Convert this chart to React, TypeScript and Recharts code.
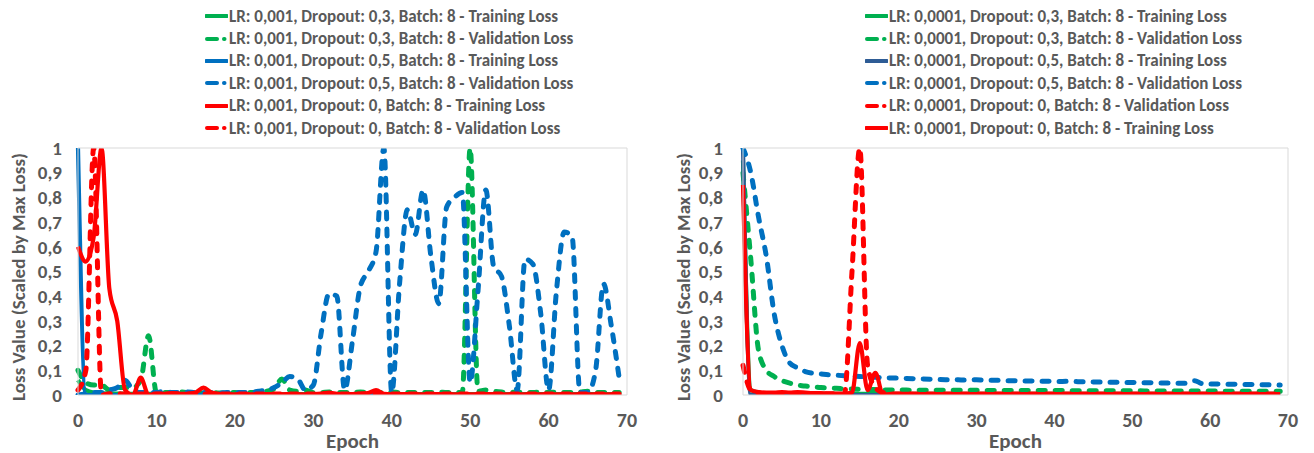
import React from "react";
import { LineChart, Line, XAxis, YAxis, ReferenceLine } from "recharts";

const epochs = [
  0, 1, 2, 3, 4, 5, 6, 7, 8, 9, 10, 11, 12, 13, 14, 15, 16, 17, 18, 19, 20, 21, 22, 23, 24, 25, 26, 27, 28, 29, 30, 31, 32, 33, 34,
  35, 36, 37, 38, 39, 40, 41, 42, 43, 44, 45, 46, 47, 48, 49, 50, 51, 52, 53, 54, 55, 56, 57, 58, 59, 60, 61, 62, 63, 64, 65, 66, 67, 68, 69,
];
const yTicks = [0, 0.1, 0.2, 0.3, 0.4, 0.5, 0.6, 0.7, 0.8, 0.9, 1];
const xTicks = [0, 10, 20, 30, 40, 50, 60, 70];

// LR 0,001
const a_d03_train = [
  0.06, 0.02, 0.01, 0.008, 0.006, 0.006, 0.005, 0.005, 0.005, 0.005, 0.005, 0.004, 0.004, 0.004, 0.004, 0.004, 0.004, 0.004, 0.004, 0.004,
  0.004, 0.004, 0.004, 0.004, 0.004, 0.004, 0.004, 0.004, 0.004, 0.004, 0.004, 0.004, 0.004, 0.004, 0.004, 0.004, 0.004, 0.004, 0.004, 0.004,
  0.004, 0.004, 0.004, 0.004, 0.004, 0.004, 0.004, 0.004, 0.004, 0.004, 0.004, 0.004, 0.004, 0.004, 0.004, 0.004, 0.004, 0.004, 0.004, 0.004,
  0.004, 0.004, 0.004, 0.004, 0.004, 0.004, 0.004, 0.004, 0.004, 0.004,
];
const a_d03_val = [
  0.1, 0.05, 0.04, 0.04, 0.02, 0.03, 0.03, 0.03, 0.06, 0.24, 0.01, 0.01, 0.01, 0.012, 0.01, 0.01, 0.008, 0.01, 0.008, 0.008,
  0.01, 0.008, 0.01, 0.01, 0.015, 0.025, 0.065, 0.02, 0.015, 0.02, 0.01, 0.01, 0.012, 0.01, 0.01, 0.01, 0.012, 0.01, 0.01, 0.01,
  0.012, 0.01, 0.01, 0.01, 0.01, 0.01, 0.012, 0.01, 0.01, 0.01, 1.0, 0.015, 0.02, 0.015, 0.012, 0.01, 0.012, 0.01, 0.01, 0.012,
  0.01, 0.012, 0.01, 0.01, 0.012, 0.015, 0.01, 0.01, 0.01, 0.01,
];
const a_d05_train = [
  1.0, 0.0, 0.0, 0.0, 0.0, 0.0, 0.0, 0.0, 0.0, 0.0, 0.0, 0.0, 0.0, 0.0, 0.0, 0.0, 0.0, 0.0, 0.0, 0.0,
  0.0, 0.0, 0.0, 0.0, 0.0, 0.0, 0.0, 0.0, 0.0, 0.0, 0.0, 0.0, 0.0, 0.0, 0.0, 0.0, 0.0, 0.0, 0.0, 0.0,
  0.0, 0.0, 0.0, 0.0, 0.0, 0.0, 0.0, 0.0, 0.0, 0.0, 0.0, 0.0, 0.0, 0.0, 0.0, 0.0, 0.0, 0.0, 0.0, 0.0,
  0.0, 0.0, 0.0, 0.0, 0.0, 0.0, 0.0, 0.0, 0.0, 0.0,
];
const a_d05_val = [
  0.0, 0.005, 0.01, 0.01, 0.02, 0.03, 0.06, 0.02, 0.01, 0.01, 0.01, 0.015, 0.01, 0.01, 0.012, 0.01, 0.01, 0.01, 0.008, 0.01,
  0.01, 0.01, 0.012, 0.015, 0.02, 0.03, 0.05, 0.075, 0.065, 0.02, 0.04, 0.25, 0.41, 0.4, 0.02, 0.22, 0.44, 0.5, 0.58, 1.0,
  0.01, 0.45, 0.75, 0.65, 0.83, 0.56, 0.37, 0.76, 0.8, 0.82, 0.05, 0.42, 0.83, 0.52, 0.48, 0.28, 0.02, 0.55, 0.53, 0.33,
  0.02, 0.42, 0.66, 0.64, 0.01, 0.01, 0.1, 0.45, 0.28, 0.07,
];
const a_d0_train = [
  0.6, 0.54, 0.64, 1.0, 0.43, 0.3, 0.02, 0.0, 0.07, 0.0, 0.005, 0.005, 0.008, 0.005, 0.005, 0.01, 0.03, 0.01, 0.005, 0.003,
  0.003, 0.004, 0.003, 0.003, 0.004, 0.003, 0.003, 0.004, 0.003, 0.003, 0.004, 0.006, 0.01, 0.005, 0.003, 0.004, 0.005, 0.008, 0.02, 0.005,
  0.003, 0.003, 0.004, 0.003, 0.003, 0.003, 0.004, 0.003, 0.003, 0.003, 0.003, 0.003, 0.004, 0.003, 0.003, 0.003, 0.003, 0.003, 0.003, 0.003,
  0.003, 0.003, 0.003, 0.003, 0.003, 0.003, 0.003, 0.003, 0.003, 0.003,
];
const a_d0_val = [
  0.02, 0.1, 1.0, 0.0, 0.005, 0.005, 0.004, 0.004, 0.004, 0.004, 0.004, 0.004, 0.004, 0.004, 0.004, 0.004, 0.004, 0.004, 0.004, 0.004,
  0.004, 0.004, 0.004, 0.004, 0.004, 0.004, 0.004, 0.004, 0.004, 0.004, 0.004, 0.004, 0.004, 0.004, 0.004, 0.004, 0.004, 0.004, 0.004, 0.004,
  0.004, 0.004, 0.004, 0.004, 0.004, 0.004, 0.004, 0.004, 0.004, 0.004, 0.004, 0.004, 0.004, 0.004, 0.004, 0.004, 0.004, 0.004, 0.004, 0.004,
  0.004, 0.004, 0.004, 0.004, 0.004, 0.004, 0.004, 0.004, 0.004, 0.004,
];

// LR 0,0001
const b_d03_train = [
  0.95, 0.02, 0.01, 0.006, 0.005, 0.005, 0.005, 0.005, 0.005, 0.005, 0.005, 0.005, 0.005, 0.005, 0.005, 0.005, 0.005, 0.005, 0.005, 0.005,
  0.005, 0.005, 0.005, 0.005, 0.005, 0.005, 0.005, 0.005, 0.005, 0.005, 0.005, 0.005, 0.005, 0.005, 0.005, 0.005, 0.005, 0.005, 0.005, 0.005,
  0.005, 0.005, 0.005, 0.005, 0.005, 0.005, 0.005, 0.005, 0.005, 0.005, 0.005, 0.005, 0.005, 0.005, 0.005, 0.005, 0.005, 0.005, 0.005, 0.005,
  0.005, 0.005, 0.005, 0.005, 0.005, 0.005, 0.005, 0.005, 0.005, 0.005,
];
const b_d03_val = [
  0.9, 0.55, 0.18, 0.1, 0.075, 0.058, 0.048, 0.04, 0.036, 0.033, 0.03, 0.028, 0.027, 0.025, 0.024, 0.023, 0.022, 0.022, 0.021, 0.02,
  0.02, 0.02, 0.019, 0.019, 0.019, 0.019, 0.019, 0.019, 0.019, 0.019, 0.019, 0.018, 0.018, 0.018, 0.018, 0.018, 0.018, 0.018, 0.018, 0.018,
  0.018, 0.018, 0.017, 0.017, 0.017, 0.017, 0.017, 0.017, 0.017, 0.017, 0.017, 0.017, 0.016, 0.016, 0.016, 0.016, 0.016, 0.016, 0.016, 0.016,
  0.016, 0.016, 0.015, 0.015, 0.015, 0.015, 0.015, 0.015, 0.015, 0.015,
];
const b_d05_train = [
  1.0, 0.0, 0.0, 0.0, 0.0, 0.0, 0.0, 0.0, 0.0, 0.0, 0.0, 0.0, 0.0, 0.0, 0.0, 0.0, 0.0, 0.0, 0.0, 0.0,
  0.0, 0.0, 0.0, 0.0, 0.0, 0.0, 0.0, 0.0, 0.0, 0.0, 0.0, 0.0, 0.0, 0.0, 0.0, 0.0, 0.0, 0.0, 0.0, 0.0,
  0.0, 0.0, 0.0, 0.0, 0.0, 0.0, 0.0, 0.0, 0.0, 0.0, 0.0, 0.0, 0.0, 0.0, 0.0, 0.0, 0.0, 0.0, 0.0, 0.0,
  0.0, 0.0, 0.0, 0.0, 0.0, 0.0, 0.0, 0.0, 0.0, 0.0,
];
const b_d05_val = [
  1.0, 0.9, 0.72, 0.56, 0.33, 0.2, 0.13, 0.11, 0.095, 0.088, 0.085, 0.082, 0.08, 0.078, 0.076, 0.075, 0.073, 0.072, 0.07, 0.069,
  0.068, 0.067, 0.066, 0.065, 0.064, 0.063, 0.062, 0.062, 0.061, 0.06, 0.062, 0.06, 0.06, 0.059, 0.058, 0.058, 0.057, 0.057, 0.056, 0.056,
  0.055, 0.055, 0.056, 0.054, 0.054, 0.053, 0.053, 0.052, 0.052, 0.051, 0.051, 0.05, 0.05, 0.049, 0.049, 0.048, 0.048, 0.047, 0.058, 0.046,
  0.045, 0.045, 0.044, 0.044, 0.043, 0.043, 0.042, 0.041, 0.041, 0.04,
];
const b_d0_val = [
  0.12, 0.02, 0.008, 0.005, 0.005, 0.005, 0.005, 0.005, 0.005, 0.005, 0.005, 0.005, 0.005, 0.0, 0.5, 1.0, 0.12, 0.03, 0.01, 0.005,
  0.004, 0.004, 0.004, 0.004, 0.004, 0.004, 0.004, 0.004, 0.004, 0.004, 0.004, 0.004, 0.004, 0.004, 0.004, 0.004, 0.004, 0.004, 0.004, 0.004,
  0.004, 0.004, 0.004, 0.004, 0.004, 0.004, 0.004, 0.004, 0.004, 0.004, 0.004, 0.004, 0.004, 0.004, 0.004, 0.004, 0.004, 0.004, 0.004, 0.004,
  0.004, 0.004, 0.004, 0.004, 0.004, 0.004, 0.004, 0.004, 0.004, 0.004,
];
const b_d0_train = [
  0.85, 0.02, 0.012, 0.01, 0.01, 0.012, 0.01, 0.012, 0.01, 0.008, 0.008, 0.006, 0.006, 0.005, 0.01, 0.21, 0.02, 0.09, 0.0, 0.005,
  0.005, 0.005, 0.004, 0.004, 0.004, 0.004, 0.004, 0.004, 0.004, 0.004, 0.004, 0.004, 0.004, 0.004, 0.004, 0.004, 0.004, 0.004, 0.004, 0.004,
  0.004, 0.004, 0.004, 0.004, 0.004, 0.004, 0.004, 0.004, 0.004, 0.004, 0.004, 0.004, 0.004, 0.004, 0.004, 0.004, 0.004, 0.004, 0.004, 0.004,
  0.004, 0.004, 0.004, 0.004, 0.004, 0.004, 0.004, 0.004, 0.004, 0.004,
];

const GREEN = "#00B050";
const BLUE = "#0070C0";
const NAVY = "#2E5C95";
const RED = "#FF0000";
const GREY = "#595959";
const GRID = "#D9D9D9";
const FONT = "Calibri, Carlito, Lato, sans-serif";

type Series = { key: string; name: string; color: string; dashed: boolean; values: number[] };

const leftSeries: Series[] = [
  { key: "s1", name: "LR: 0,001, Dropout: 0,3, Batch: 8 - Training Loss", color: GREEN, dashed: false, values: a_d03_train },
  { key: "s2", name: "LR: 0,001, Dropout: 0,3, Batch: 8 - Validation Loss", color: GREEN, dashed: true, values: a_d03_val },
  { key: "s3", name: "LR: 0,001, Dropout: 0,5, Batch: 8 - Training Loss", color: BLUE, dashed: false, values: a_d05_train },
  { key: "s4", name: "LR: 0,001, Dropout: 0,5, Batch: 8 - Validation Loss", color: BLUE, dashed: true, values: a_d05_val },
  { key: "s5", name: "LR: 0,001, Dropout: 0, Batch: 8 - Training Loss", color: RED, dashed: false, values: a_d0_train },
  { key: "s6", name: "LR: 0,001, Dropout: 0, Batch: 8 - Validation Loss", color: RED, dashed: true, values: a_d0_val },
];

const rightSeries: Series[] = [
  { key: "s1", name: "LR: 0,0001, Dropout: 0,3, Batch: 8 - Training Loss", color: GREEN, dashed: false, values: b_d03_train },
  { key: "s2", name: "LR: 0,0001, Dropout: 0,3, Batch: 8 - Validation Loss", color: GREEN, dashed: true, values: b_d03_val },
  { key: "s3", name: "LR: 0,0001, Dropout: 0,5, Batch: 8 - Training Loss", color: NAVY, dashed: false, values: b_d05_train },
  { key: "s4", name: "LR: 0,0001, Dropout: 0,5, Batch: 8 - Validation Loss", color: BLUE, dashed: true, values: b_d05_val },
  { key: "s5", name: "LR: 0,0001, Dropout: 0, Batch: 8 - Validation Loss", color: RED, dashed: true, values: b_d0_val },
  { key: "s6", name: "LR: 0,0001, Dropout: 0, Batch: 8 - Training Loss", color: RED, dashed: false, values: b_d0_train },
];

function toRows(series: Series[]) {
  return epochs.map((epoch, i) => {
    const row: Record<string, number> = { epoch };
    series.forEach((s) => (row[s.key] = s.values[i]));
    return row;
  });
}

function LegendBlock({ series, left }: { series: Series[]; left: number }) {
  return (
    <div style={{ position: "absolute", left, top: 5, fontFamily: FONT, fontWeight: 700, fontSize: 17, color: GREY }}>
      {series.map((s) => (
        <div key={s.key} style={{ display: "flex", alignItems: "center", height: 22.4, whiteSpace: "nowrap" }}>
          <svg width={23} height={8} style={{ marginRight: 1 }}>
            {s.dashed ? (
              <>
                <line x1={2} y1={4} x2={12} y2={4} stroke={s.color} strokeWidth={4} strokeLinecap="round" />
                <line x1={19} y1={4} x2={19.5} y2={4} stroke={s.color} strokeWidth={4} strokeLinecap="round" />
              </>
            ) : (
              <line x1={1} y1={4} x2={22} y2={4} stroke={s.color} strokeWidth={4} strokeLinecap="round" />
            )}
          </svg>
          <span>{s.name}</span>
        </div>
      ))}
    </div>
  );
}

function Panel({ series, width, yAxisWidth, rightMargin, tickGap, titleX }: {
  series: Series[]; width: number; yAxisWidth: number; rightMargin: number; tickGap: number; titleX: number;
}) {
  const plotLeft = yAxisWidth;
  const plotRight = width - rightMargin;
  return (
    <LineChart width={width} height={453} data={toRows(series)} margin={{ top: 143, right: rightMargin, bottom: 0, left: 0 }}>
      <XAxis
        xAxisId="top"
        orientation="top"
        dataKey="epoch"
        type="number"
        domain={[0, 70]}
        ticks={xTicks}
        height={5}
        tickSize={5}
        tick={false}
        tickLine={{ stroke: GRID }}
        axisLine={{ stroke: GRID }}
      />
      <XAxis
        dataKey="epoch"
        type="number"
        domain={[0, 70]}
        ticks={xTicks}
        interval={0}
        height={58}
        tickSize={0}
        tickMargin={18}
        tickLine={false}
        axisLine={{ stroke: GRID }}
        tick={{ fill: GREY, fontSize: 20, fontWeight: 700, fontFamily: FONT }}
        label={{
          content: () => (
            <text x={(plotLeft + plotRight) / 2} y={448} textAnchor="middle" fill={GREY} fontSize={21} fontWeight={700} fontFamily={FONT}>
              Epoch
            </text>
          ),
        }}
      />
      <YAxis
        type="number"
        domain={[0, 1]}
        ticks={yTicks}
        interval={0}
        width={yAxisWidth}
        tickSize={0}
        tickMargin={tickGap}
        tickLine={false}
        axisLine={{ stroke: GRID }}
        allowDataOverflow
        tickFormatter={(v: number) => String(v).replace(".", ",")}
        tick={{ fill: GREY, fontSize: 19, fontWeight: 700, fontFamily: FONT }}
        label={{
          content: () => (
            <text x={titleX} y={277} transform={`rotate(-90, ${titleX}, 277)`} textAnchor="middle" dominantBaseline="central"
              fill={GREY} fontSize={19} fontWeight={700} fontFamily={FONT}>
              Loss Value (Scaled by Max Loss)
            </text>
          ),
        }}
      />
      <ReferenceLine x={70} stroke={GRID} />
      {series.map((s) => (
        <Line
          key={s.key}
          dataKey={s.key}
          name={s.name}
          type="monotone"
          stroke={s.color}
          strokeWidth={s.dashed ? 5 : 4.2}
          strokeDasharray={s.dashed ? "7 10" : undefined}
          strokeLinecap={s.dashed ? "round" : "butt"}
          dot={false}
          activeDot={false}
          isAnimationActive={false}
        />
      ))}
    </LineChart>
  );
}

export default function App() {
  return (
    <div style={{ position: "fixed", left: 0, top: 0, width: 1314, height: 453, background: "#fff", overflow: "hidden" }}>
      <div style={{ position: "absolute", left: 0, top: 0 }}>
        <Panel series={leftSeries} width={660} yAxisWidth={78} rightMargin={33} tickGap={16} titleX={18} />
      </div>
      <div style={{ position: "absolute", left: 660, top: 0 }}>
        <Panel series={rightSeries} width={654} yAxisWidth={83} rightMargin={26} tickGap={20} titleX={23} />
      </div>
      <LegendBlock series={leftSeries} left={205} />
      <LegendBlock series={rightSeries} left={865} />
    </div>
  );
}
